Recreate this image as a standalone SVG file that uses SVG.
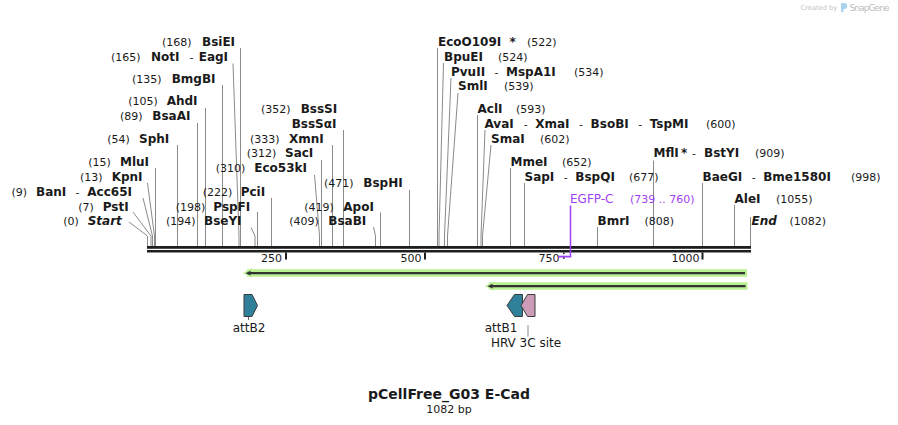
<svg xmlns="http://www.w3.org/2000/svg" width="898" height="425" viewBox="0 0 898 425">
<style>
text{font-family:"DejaVu Sans",Verdana,sans-serif;fill:#1a1a1a}
.n{font-size:11px;font-weight:normal}
.e{font-size:12px;font-weight:bold}
.i{font-style:italic}
.f{font-size:12px}
.p{fill:#9f3ff2}
.c{stroke:#8a8a8a;stroke-width:1;fill:none}
.bar{fill:#1e1e1e}
.halo{stroke:#b9f091;fill:none}
.core{stroke:#333;fill:none}
.feat{stroke:#3c3c3c;stroke-width:1}
.mid{text-anchor:middle}
.end{text-anchor:end}
</style>
<rect width="898" height="425" fill="#fff"/>
<g id="watermark">
<text x="800.5" y="10" style="font-size:6.7px;fill:#c4c4c4">Created by</text>
<path d="M841,3 h3.5 a2.5,2.5 0 0 1 2.5,2.5 v1 a2.5,2.5 0 0 1 -2.5,2.5 h-1 v3 h-2.5 z" fill="#a9d3ef"/>
<text x="849.5" y="11" textLength="40" style="font-size:9px;fill:#bdbdbd">SnapGene</text>
</g>
<g id="connectors">
<path class="c" d="M240.5,48V246"/>
<path class="c" d="M233,63.5L239,236V246"/>
<path class="c" d="M222.5,85V246"/>
<path class="c" d="M205.5,108V246"/>
<path class="c" d="M197.5,123V246"/>
<path class="c" d="M177.5,145V246"/>
<path class="c" d="M155.5,168V246"/>
<path class="c" d="M147.5,183L154.5,236V246"/>
<path class="c" d="M143,198L152.5,236V246"/>
<path class="c" d="M133,212L151,236V246"/>
<path class="c" d="M129,222L147.5,236V246"/>
<path class="c" d="M251,227.5L255,236V246"/>
<path class="c" d="M257.5,212V246"/>
<path class="c" d="M271.5,198V246"/>
<path class="c" d="M314.5,175L319.5,236V246"/>
<path class="c" d="M321.5,160V246"/>
<path class="c" d="M332.5,145V246"/>
<path class="c" d="M343.5,130V246"/>
<path class="c" d="M373.5,227L375.5,236V246"/>
<path class="c" d="M380.5,212.5V246"/>
<path class="c" d="M409.5,190V246"/>
<path class="c" d="M437.5,48V246"/>
<path class="c" d="M443.5,63L439,236V246"/>
<path class="c" d="M451,78L444.5,236V246"/>
<path class="c" d="M458,93L447.5,236V246"/>
<path class="c" d="M477.5,115V246"/>
<path class="c" d="M485,130L481,236V246"/>
<path class="c" d="M491,145L482.5,236V246"/>
<path class="c" d="M510.5,168V246"/>
<path class="c" d="M524.5,183V246"/>
<path class="c" d="M597.5,227V246"/>
<path class="c" d="M653.5,160.5V246"/>
<path class="c" d="M702.5,183V246"/>
<path class="c" d="M734.5,205V246"/>
<path class="c" d="M750.5,217V246"/>
<path d="M528,325V336.5" stroke="#8a8a8a" stroke-width="1"/>
<path d="M248.5,317V320" stroke="#666" stroke-width="1"/>
</g>
<g id="sequence-bar">
<rect class="bar" x="147" y="246" width="604" height="2.8"/>
<rect class="bar" x="147" y="250" width="604" height="2.5"/>
<rect class="bar" x="285" y="252.5" width="2" height="7"/>
<rect class="bar" x="424" y="252.5" width="2" height="7"/>
<rect class="bar" x="563" y="252.5" width="1.6" height="1.6"/>
<rect class="bar" x="563" y="257.2" width="1.6" height="1.6"/>
<rect class="bar" x="701.5" y="252.5" width="2" height="7"/>
<text class="n end" x="282" y="262">250</text>
<text class="n end" x="421.5" y="262">500</text>
<text class="n end" x="559.5" y="262">750</text>
<text class="n end" x="699.5" y="262">1000</text>
</g>
<g id="enz-BsiEI"><text y="45.7"><tspan class="n" x="162">(168)</tspan><tspan class="e" x="202">BsiEI</tspan></text></g>
<g id="enz-NotI"><text y="61"><tspan class="n" x="111">(165)</tspan><tspan class="e" x="151">NotI</tspan><tspan class="n" x="189.5">-</tspan><tspan class="e" x="198.7">EagI</tspan></text></g>
<g id="enz-BmgBI"><text y="82.7"><tspan class="n" x="132">(135)</tspan><tspan class="e" x="171.7">BmgBI</tspan></text></g>
<g id="enz-AhdI"><text y="105.3"><tspan class="n" x="128.3">(105)</tspan><tspan class="e" x="166.7">AhdI</tspan></text></g>
<g id="enz-BsaAI"><text y="120.3"><tspan class="n" x="120">(89)</tspan><tspan class="e" x="152.3">BsaAI</tspan></text></g>
<g id="enz-SphI"><text y="142.7"><tspan class="n" x="107.3">(54)</tspan><tspan class="e" x="139">SphI</tspan></text></g>
<g id="enz-MluI"><text y="166"><tspan class="n" x="88.3">(15)</tspan><tspan class="e" x="120">MluI</tspan></text></g>
<g id="enz-KpnI"><text y="180.7"><tspan class="n" x="80">(13)</tspan><tspan class="e" x="111.7">KpnI</tspan></text></g>
<g id="enz-BanI"><text y="195.7"><tspan class="n" x="11.5">(9)</tspan><tspan class="e" x="36">BanI</tspan><tspan class="n" x="75.5">-</tspan><tspan class="e" x="87.3">Acc65I</tspan></text></g>
<g id="enz-PstI"><text y="210.7"><tspan class="n" x="78.3">(7)</tspan><tspan class="e" x="102.7">PstI</tspan></text></g>
<g id="start"><text y="225.3"><tspan class="n" x="63.3">(0)</tspan><tspan class="e i" x="87.7">Start</tspan></text></g>
<g id="enz-BseYI"><text y="225.3"><tspan class="n" x="166">(194)</tspan><tspan class="e" x="204">BseYI</tspan></text></g>
<g id="enz-PspFI"><text y="210.7"><tspan class="n" x="175.7">(198)</tspan><tspan class="e" x="213.3">PspFI</tspan></text></g>
<g id="enz-PciI"><text y="195.7"><tspan class="n" x="202.7">(222)</tspan><tspan class="e" x="240.7">PciI</tspan></text></g>
<g id="enz-Eco53kI"><text y="171.7"><tspan class="n" x="215.7">(310)</tspan><tspan class="e" x="254.3">Eco53kI</tspan></text></g>
<g id="enz-SacI"><text y="157.3"><tspan class="n" x="246.7">(312)</tspan><tspan class="e" x="285">SacI</tspan></text></g>
<g id="enz-XmnI"><text y="142.7"><tspan class="n" x="250">(333)</tspan><tspan class="e" x="289">XmnI</tspan></text></g>
<g id="enz-BssSI"><text y="112.7"><tspan class="n" x="261">(352)</tspan><tspan class="e" x="300.7">BssSI</tspan></text><text class="e" x="291.7" y="127.7">BssSαI</text></g>
<g id="enz-BsaBI"><text y="225.3"><tspan class="n" x="289.3">(409)</tspan><tspan class="e" x="328.3">BsaBI</tspan></text></g>
<g id="enz-ApoI"><text y="210.7"><tspan class="n" x="304.3">(419)</tspan><tspan class="e" x="343.3">ApoI</tspan></text></g>
<g id="enz-BspHI"><text y="187.3"><tspan class="n" x="324">(471)</tspan><tspan class="e" x="363.3">BspHI</tspan></text></g>
<g id="enz-EcoO109I"><text y="45.7"><tspan class="e" x="438">EcoO109I</tspan><tspan class="e" x="509.5">*</tspan><tspan class="n" x="527">(522)</tspan></text></g>
<g id="enz-BpuEI"><text y="60.7"><tspan class="e" x="444">BpuEI</tspan><tspan class="n" x="498">(524)</tspan></text></g>
<g id="enz-PvuII"><text y="75.7"><tspan class="e" x="451">PvuII</tspan><tspan class="n" x="494.6">-</tspan><tspan class="e" x="506">MspA1I</tspan><tspan class="n" x="574">(534)</tspan></text></g>
<g id="enz-SmlI"><text y="90.3"><tspan class="e" x="458">SmlI</tspan><tspan class="n" x="504">(539)</tspan></text></g>
<g id="enz-AclI"><text y="112.7"><tspan class="e" x="477.5">AclI</tspan><tspan class="n" x="516">(593)</tspan></text></g>
<g id="enz-AvaI"><text y="127.7"><tspan class="e" x="484.5">AvaI</tspan><tspan class="n" x="523.7">-</tspan><tspan class="e" x="535.2">XmaI</tspan><tspan class="n" x="579.1">-</tspan><tspan class="e" x="590.6">BsoBI</tspan><tspan class="n" x="638.2">-</tspan><tspan class="e" x="649.7">TspMI</tspan><tspan class="n" x="706">(600)</tspan></text></g>
<g id="enz-SmaI"><text y="142.7"><tspan class="e" x="491">SmaI</tspan><tspan class="n" x="540">(602)</tspan></text></g>
<g id="enz-MmeI"><text y="166"><tspan class="e" x="510.5">MmeI</tspan><tspan class="n" x="562">(652)</tspan></text></g>
<g id="enz-SapI"><text y="180.7"><tspan class="e" x="524.5">SapI</tspan><tspan class="n" x="563.8">-</tspan><tspan class="e" x="575.3">BspQI</tspan><tspan class="n" x="629">(677)</tspan></text></g>
<g id="feature-EGFP-C">
<path d="M570.5,205.5V256.5" stroke="#9f3ff2" stroke-width="1.5" fill="none"/>
<path d="M558,256.6H571.2" stroke="#9f3ff2" stroke-width="1.8" fill="none"/>
<text y="203.3"><tspan class="f p" x="570">EGFP-C</tspan><tspan class="n p" x="630">(739 .. 760)</tspan></text>
</g>
<g id="enz-BmrI"><text y="225"><tspan class="e" x="597.5">BmrI</tspan><tspan class="n" x="644.5">(808)</tspan></text></g>
<g id="enz-MflI"><text y="157.3"><tspan class="e" x="653.5">MflI</tspan><tspan class="e" x="681">*</tspan><tspan class="n" x="692">-</tspan><tspan class="e" x="704">BstYI</tspan><tspan class="n" x="755">(909)</tspan></text></g>
<g id="enz-BaeGI"><text y="180.7"><tspan class="e" x="702.5">BaeGI</tspan><tspan class="n" x="751.7">-</tspan><tspan class="e" x="763.2">Bme1580I</tspan><tspan class="n" x="851">(998)</tspan></text></g>
<g id="enz-AleI"><text y="203.3"><tspan class="e" x="734.5">AleI</tspan><tspan class="n" x="776">(1055)</tspan></text></g>
<g id="end"><text y="225"><tspan class="e i" x="751.5">End</tspan><tspan class="n" x="789.5">(1082)</tspan></text></g>
<g id="feature-arrow-1">
<path class="halo" d="M247,273H747" stroke-width="7.3"/>
<path d="M243,273L252,268.3V277.7Z" fill="#b9f091"/>
<path class="core" d="M249,273.2H745" stroke-width="2.2"/>
<path d="M245.5,273.2L250.5,270.8V275.6Z" fill="#333"/>
</g>
<g id="feature-arrow-2">
<path class="halo" d="M489,286H747.5" stroke-width="7.3"/>
<path d="M485,286L494,281.3V290.7Z" fill="#b9f091"/>
<path class="core" d="M491,286.2H745.5" stroke-width="2.2"/>
<path d="M487.5,286.2L492.5,283.8V288.6Z" fill="#333"/>
</g>
<g id="attB2">
<path class="feat" d="M244,294.5H252L257.5,305.5L252,316.5H244Z" fill="#2f8199"/>
<text class="f mid" x="249" y="331.7">attB2</text>
</g>
<g id="attB1">
<path class="feat" d="M507,305.5L514.5,294.5H522.5V316.5H514.5Z" fill="#2f8199"/>
<text class="f mid" x="501" y="331.7">attB1</text>
</g>
<g id="HRV-3C-site">
<path class="feat" d="M521,305.5L527.5,294.5H535V316.5H527.5Z" fill="#cc9bb7"/>
<text class="f mid" x="526" y="347.3">HRV 3C site</text>
</g>
<g id="title">
<text class="mid" x="449" y="399" style="font-size:14px;font-weight:bold">pCellFree_G03 E-Cad</text>
<text class="n mid" x="449" y="412.7">1082 bp</text>
</g>
</svg>
